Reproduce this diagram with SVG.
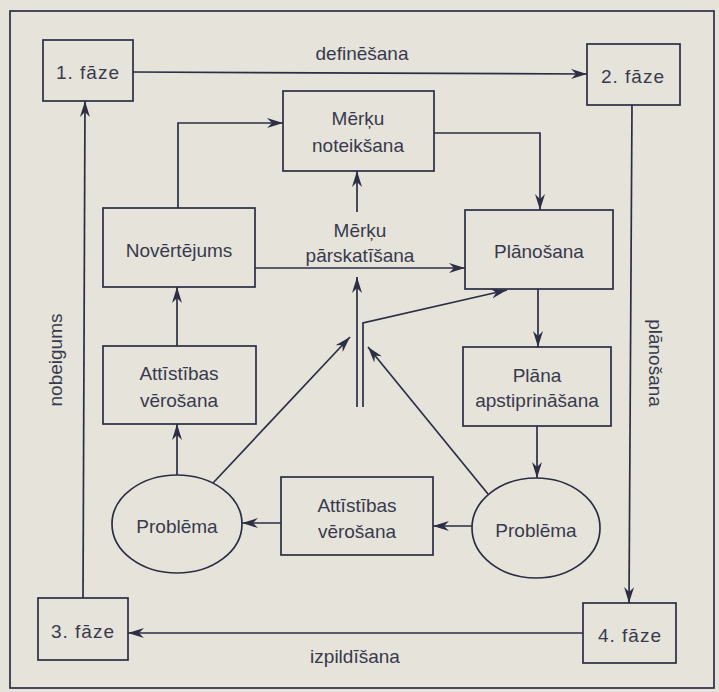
<svg xmlns="http://www.w3.org/2000/svg" width="719" height="692" viewBox="0 0 719 692">
<defs>
<style>
.bx{fill:none;stroke:#2b2e45;stroke-width:1.7}
.ln{fill:none;stroke:#2b2e45;stroke-width:1.7}
.ar{marker-end:url(#ah)}
text{font-family:"Liberation Sans",Arial,sans-serif;font-size:19px;fill:#383a4d;text-anchor:middle}
.ph{letter-spacing:1px}
</style>
<marker id="ah" markerUnits="userSpaceOnUse" viewBox="0 0 16 10" refX="16" refY="5" markerWidth="16" markerHeight="10" orient="auto">
<path d="M0,0 L16,5 L0,10 L5,5 Z" fill="#2b2e45"/>
</marker>
</defs>
<rect x="0" y="0" width="719" height="692" fill="#e6e3db"/>
<rect x="10" y="11" width="704" height="677" class="bx"/>

<g id="connectors">
<path class="ln ar" d="M133,72 L587,74"/>
<path class="ln ar" d="M632,105 L629,603"/>
<path class="ln ar" d="M583,633 L128,633"/>
<path class="ln ar" d="M83,598 L85,101"/>
<path class="ln ar" d="M178,208 L178,123 L283,123"/>
<path class="ln ar" d="M434,133 L540,133 L540,210"/>
<path class="ln ar" d="M538,289 L538,347"/>
<path class="ln ar" d="M537,426 L537,478"/>
<path class="ln ar" d="M472,526 L433,526"/>
<path class="ln ar" d="M281,523 L242,523"/>
<path class="ln ar" d="M177,475 L177,424"/>
<path class="ln ar" d="M177,346 L177,287"/>
<path class="ln ar" d="M357,212 L357,171"/>
<path class="ln ar" d="M255,268 L465,268"/>
<path class="ln ar" d="M357,407 L357,277"/>
<path class="ln ar" d="M363,407 L363,323 L507,290"/>
<path class="ln ar" d="M213,483 L350,337"/>
<path class="ln ar" d="M488,494 L368,347"/>
</g>

<g id="labels">
<text x="362" y="60">definēšana</text>
<text x="355" y="663">izpildīšana</text>
<text transform="translate(62,360) rotate(-90)">nobeigums</text>
<text transform="translate(649,363) rotate(90)">plānošana</text>
</g>

<g id="faze1"><rect x="43" y="40" width="90" height="61" class="bx"/><text class="ph" x="88" y="79">1. fāze</text></g>
<g id="faze2"><rect x="587" y="44" width="93" height="61" class="bx"/><text class="ph" x="633" y="83">2. fāze</text></g>
<g id="faze3"><rect x="38" y="598" width="90" height="62" class="bx"/><text class="ph" x="83" y="638">3. fāze</text></g>
<g id="faze4"><rect x="583" y="603" width="93" height="60" class="bx"/><text class="ph" x="630" y="642">4. fāze</text></g>

<g id="merku-noteiksana"><rect x="283" y="91" width="151" height="80" class="bx"/><text x="358" y="125">Mērķu</text><text x="358" y="152">noteikšana</text></g>
<g id="novertejums"><rect x="103" y="208" width="152" height="79" class="bx"/><text x="179" y="257">Novērtējums</text></g>
<g id="merku-parskatisana"><text x="360" y="237">Mērķu</text><text x="360" y="262">pārskatīšana</text></g>
<g id="planosana"><rect x="465" y="210" width="148" height="79" class="bx"/><text x="539" y="258">Plānošana</text></g>
<g id="plana-apstiprinasana"><rect x="463" y="347" width="148" height="79" class="bx"/><text x="537" y="382">Plāna</text><text x="537" y="407">apstiprināšana</text></g>
<g id="attistibas-left"><rect x="103" y="346" width="153" height="78" class="bx"/><text x="179" y="380">Attīstības</text><text x="179" y="407">vērošana</text></g>
<g id="attistibas-bottom"><rect x="281" y="477" width="152" height="78" class="bx"/><text x="357" y="512">Attīstības</text><text x="357" y="538">vērošana</text></g>
<g id="problema-left"><ellipse cx="177" cy="524" rx="65" ry="49" class="bx"/><text x="177" y="533">Problēma</text></g>
<g id="problema-right"><ellipse cx="536" cy="528" rx="64" ry="50" class="bx"/><text x="536" y="537">Problēma</text></g>
</svg>
